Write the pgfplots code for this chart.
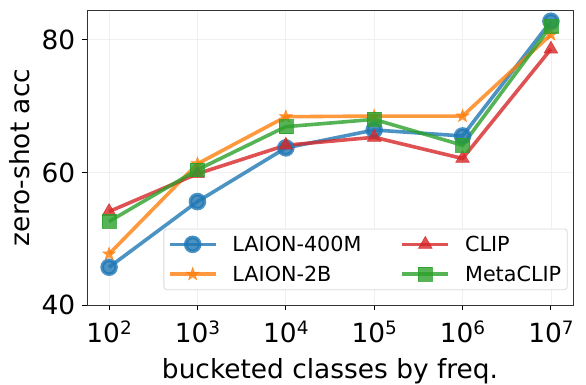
\documentclass[border=0pt]{standalone}
\usepackage{fontspec}
\setmainfont{DejaVu Sans}
\usepackage{pgfplots}
\pgfplotsset{compat=1.18}
\definecolor{tabblue}{HTML}{1F77B4}
\definecolor{taborange}{HTML}{FF7F0E}
\definecolor{tabred}{HTML}{D62728}
\definecolor{tabgreen}{HTML}{2CA02C}
\newcommand{\tp}[1]{10\raisebox{8.5bp}{\fontsize{18.5}{18.5}\selectfont #1}}
% filled five-point star
\pgfdeclareplotmark{fstar}{%
  \pgfpathmoveto{\pgfpointpolar{90}{1.25\pgfplotmarksize}}%
  \pgfpathlineto{\pgfpointpolar{126}{0.5\pgfplotmarksize}}%
  \pgfpathlineto{\pgfpointpolar{162}{1.25\pgfplotmarksize}}%
  \pgfpathlineto{\pgfpointpolar{198}{0.5\pgfplotmarksize}}%
  \pgfpathlineto{\pgfpointpolar{234}{1.25\pgfplotmarksize}}%
  \pgfpathlineto{\pgfpointpolar{270}{0.5\pgfplotmarksize}}%
  \pgfpathlineto{\pgfpointpolar{306}{1.25\pgfplotmarksize}}%
  \pgfpathlineto{\pgfpointpolar{342}{0.5\pgfplotmarksize}}%
  \pgfpathlineto{\pgfpointpolar{18}{1.25\pgfplotmarksize}}%
  \pgfpathlineto{\pgfpointpolar{54}{0.5\pgfplotmarksize}}%
  \pgfpathclose
  \pgfusepathqfillstroke
}
\begin{document}
\begin{tikzpicture}
\begin{axis}[
    scale only axis,
    width=486bp, height=295bp,
    xmin=1.75, xmax=7.25,
    ymin=40, ymax=84.5,
    xtick={2,3,4,5,6,7},
    xticklabels={\tp{2},\tp{3},\tp{4},\tp{5},\tp{6},\tp{7}},
    ytick={40,60,80},
    /pgf/number format/assume math mode=true,
    ticklabel style={font=\fontsize{26.5}{30}\selectfont},
    xticklabel style={inner sep=0pt, anchor=north, yshift=-11bp},
    yticklabel style={inner sep=0pt, anchor=east, xshift=-7bp},
    label style={font=\fontsize{26.5}{30}\selectfont},
    xlabel={bucketed classes by freq.},
    ylabel={zero-shot acc},
    xlabel style={at={(axis description cs:0.5,-0.2475)}, anchor=base},
    ylabel style={at={(axis description cs:-0.1173,0.5)}, anchor=base},
    grid=major,
    major grid style={gray!12, line width=0.8pt},
    axis line style={line width=0.9pt, black!80},
    major tick length=4.5bp,
    tick style={black, line width=0.9pt},
    tick align=outside,
    xtick pos=bottom, ytick pos=left,
    legend columns=2,
    transpose legend,
    legend style={at={(axis description cs:0.1574,0.2593)}, anchor=north west,
        font=\fontsize{20.8}{24}\selectfont, draw=black!15, line width=0.8pt,
        rounded corners=3pt,
        nodes={inner sep=2bp},
        /tikz/every odd column/.append style={column sep=13bp},
        /tikz/every even column/.append style={column sep=37bp},
        row sep=9bp, inner xsep=4bp, inner ysep=5bp},
    legend cell align=left,
    legend image code/.code={
        \draw[#1] (0bp,0bp) -- (46bp,0bp);
        \draw[#1, only marks] plot coordinates {(23bp,0bp)};
    },
    every axis plot/.append style={line width=3.6bp, opacity=0.8},
]
\addplot[tabblue, mark=*, mark size=7pt] coordinates {(2,45.7) (3,55.6) (4,63.7) (5,66.4) (6,65.5) (7,82.8)};
\addlegendentry{LAION-400M}
\addplot[taborange, mark=fstar, mark size=5.5pt, mark options={fill=taborange, line width=0.5pt}] coordinates {(2,47.7) (3,61.3) (4,68.4) (5,68.5) (6,68.5) (7,80.8)};
\addlegendentry{LAION-2B}
\addplot[tabred, mark=triangle*, mark size=8pt, mark options={line width=0.5pt}] coordinates {(2,54.1) (3,59.8) (4,64.1) (5,65.3) (6,62.1) (7,78.6)};
\addlegendentry{CLIP}
\addplot[tabgreen, mark=square*, mark size=7pt, mark options={line width=0.5pt}] coordinates {(2,52.6) (3,60.4) (4,66.9) (5,68.0) (6,64.1) (7,82.1)};
\addlegendentry{MetaCLIP}
\end{axis}
\pgfresetboundingbox
\path[use as bounding box] ([xshift=-87bp,yshift=-80bp]current axis.south west) rectangle ++(586bp,385bp);
\end{tikzpicture}
\end{document}
